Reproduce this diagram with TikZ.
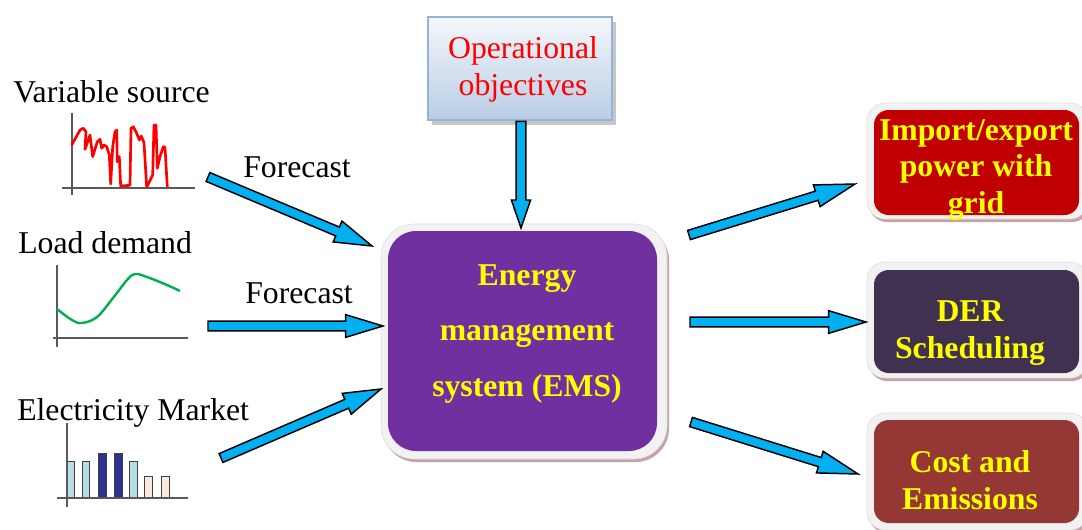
\documentclass[tikz,border=0pt]{standalone}
\usepackage{fontspec}
\setmainfont{Liberation Serif}
\usetikzlibrary{calc,shadows}
\definecolor{arrowc}{HTML}{00B0F0}
\definecolor{axisc}{HTML}{595959}
\definecolor{loadc}{HTML}{00B050}
\definecolor{barlight}{HTML}{B7DEE8}
\definecolor{bardark}{HTML}{2E3192}
\definecolor{barpeach}{HTML}{FDE9D9}
\definecolor{barline}{HTML}{404040}
\definecolor{framec}{HTML}{F2F2F2}
\definecolor{framed}{HTML}{DDDDDD}
\definecolor{shadowc}{HTML}{C4A4A4}
\definecolor{emsc}{HTML}{7030A0}
\definecolor{importc}{HTML}{C00000}
\definecolor{derc}{HTML}{403151}
\definecolor{costc}{HTML}{953735}
\definecolor{yellowc}{HTML}{FFFF00}
\definecolor{objtop}{HTML}{F4F7FB}
\definecolor{objbot}{HTML}{B9CDE5}
\definecolor{objborder}{HTML}{95B3D7}
\newcommand\blockarrow[5]{%
  \coordinate (bac) at ($(#2)!#5!(#1)$);
  \draw[blockarr] ($(#1)!#3!90:(#2)$) -- ($(bac)!#3!90:(#2)$) -- ($(bac)!#4!90:(#2)$)
    -- (#2) -- ($(bac)!#4!-90:(#2)$) -- ($(bac)!#3!-90:(#2)$) -- ($(#1)!#3!-90:(#2)$) -- cycle;
}
\begin{document}
\begin{tikzpicture}[x=0.75pt,y=-0.75pt,
  lbl/.style={font=\fontsize{23.8}{28}\selectfont, inner sep=0pt, anchor=base west},
  blockarr/.style={fill=arrowc, draw=black, line width=1.1pt, line join=miter},
  axisline/.style={draw=axisc, line width=0.8pt},
  bar/.style={draw=barline, line width=0.6pt},
  outerframe/.style={rectangle, fill=framec, draw=framed, line width=0.4pt, inner sep=0pt,
    general shadow={fill=shadowc, shadow xshift=1.5pt, shadow yshift=-2.25pt}},
  innerbox/.style={rectangle, inner sep=0pt, draw=none},
  boxtext/.style={font=\bfseries\fontsize{23.8}{27.75}\selectfont, text=yellowc, align=center, inner sep=0pt},
  objbox/.style={rectangle, inner sep=0pt, top color=objtop, bottom color=objbot, draw=objborder, line width=2pt,
    general shadow={fill=gray!45, shadow xshift=3pt, shadow yshift=-3.75pt}}
]
\useasboundingbox (0,0) rectangle (1082,529);
\clip (0,0) rectangle (1082,529);

% ---------- left labels ----------
\node[lbl] (vs) at (13,102) {Variable source};
\node[lbl] (ld) at (18,253) {Load demand};
\node[lbl] (em) at (17,420) {Electricity Market};
\node[lbl] (fc1) at (243,177) {Forecast};
\node[lbl] (fc2) at (245,303) {Forecast};

% ---------- variable source chart ----------
\draw[axisline] (72,113) -- (72,195);
\draw[axisline] (62,188) -- (195,188);
\draw[red, line width=2pt, line join=round] plot coordinates {
 (71.7,145) (80,130) (83.3,128.3) (86,131.7) (85,149.3) (88.3,140) (90,135) (92.7,156.7)
 (97.3,141.7) (100,139.3) (101.7,148.3) (104,145) (106.7,146.7) (109.3,155) (110.7,184)
 (112.7,146.7) (115,131.7) (116.7,130) (117.3,161.7) (119.3,156.7) (120.7,186) (130,185.3)
 (131,128.3) (133.3,126.7) (136.7,133.3) (139.3,140) (141.3,136) (144,142.7) (146.7,187.3)
 (152.7,175) (154,125) (156,125) (157.3,168.3) (160,156.7) (163.3,146.7) (165,147.3) (167.3,187)};

% ---------- load demand chart ----------
\draw[axisline] (57,265) -- (57,347);
\draw[axisline] (53,338) -- (188,338);
\draw[loadc, line width=1.8pt] plot[smooth, tension=0.6] coordinates {
 (57,309) (72,320) (82,323) (97,317) (113,298) (127,280) (135,274) (147,277) (167,285) (180,291)};

% ---------- electricity market chart ----------
\draw[bar, fill=barlight] (67,461) rectangle (74,498);
\draw[bar, fill=barlight] (82,461) rectangle (89,498);
\draw[bar, fill=bardark] (98,453) rectangle (106,498);
\draw[bar, fill=bardark] (114,453) rectangle (122,498);
\draw[bar, fill=barlight] (129,461) rectangle (137,498);
\draw[bar, fill=barpeach] (144,476) rectangle (152,498);
\draw[bar, fill=barpeach] (161,476) rectangle (169,498);
\draw[axisline] (67,423) -- (67,507);
\draw[axisline] (57,498) -- (188,498);

% ---------- operational objectives ----------
\node[objbox, minimum width=138pt, minimum height=77.25pt] (obj) at (520,68.5) {};
\node[font=\fontsize{23.8}{27.75}\selectfont, text=red, align=center, inner sep=0pt] (objt) at (523,69.5) {Operational\\objectives};

% ---------- EMS ----------
\node[outerframe, rounded corners=25pt, minimum width=214.5pt, minimum height=176.25pt] (emsf) at (524,341.5) {};
\node[innerbox, fill=emsc, rounded corners=21pt, minimum width=201.75pt, minimum height=165pt] (ems) at (522.5,341) {};
\node[boxtext, font=\bfseries\fontsize{23.8}{41.6}\selectfont] (emst) at (527,334) {Energy\\management\\system (EMS)};

% ---------- right boxes ----------
\node[outerframe, rounded corners=13.5pt, minimum width=165.75pt, minimum height=87pt] (impf) at (977.5,161) {};
\node[innerbox, fill=importc, rounded corners=11pt, minimum width=153.75pt, minimum height=78.75pt] (imp) at (976.5,162.5) {};
\node[boxtext, font=\bfseries\fontsize{23.8}{27.5}\selectfont] (impt) at (976,170) {Import/export\\power with\\grid};

\node[outerframe, rounded corners=13.5pt, minimum width=165.75pt, minimum height=87pt] (derf) at (977.5,320) {};
\node[innerbox, fill=derc, rounded corners=11pt, minimum width=153.75pt, minimum height=77.25pt] (der) at (976.5,321.5) {};
\node[boxtext] (dert) at (970,333) {DER\\Scheduling};

\node[outerframe, rounded corners=13.5pt, minimum width=165.75pt, minimum height=87.75pt] (costf) at (977.5,471.5) {};
\node[innerbox, fill=costc, rounded corners=11pt, minimum width=153.75pt, minimum height=77.25pt] (cost) at (976.5,471.5) {};
\node[boxtext] (costt) at (970,480.5) {Cost and\\Emissions};

% ---------- arrows ----------
\coordinate (a1s) at (208,177);  \coordinate (a1e) at (372,246);
\coordinate (a2s) at (208,326);  \coordinate (a2e) at (383,326);
\coordinate (a3s) at (221,458);  \coordinate (a3e) at (381,389);
\coordinate (a4s) at (obj.south -| 521,0); \coordinate (a4e) at (521,228);
\coordinate (a5s) at (689,235);  \coordinate (a5e) at (855,184);
\coordinate (a6s) at (690,322);  \coordinate (a6e) at (866,322);
\coordinate (a7s) at (691,422);  \coordinate (a7e) at (858,474);
\blockarrow{a1s}{a1e}{3.6pt}{8.5pt}{28pt}
\blockarrow{a2s}{a2e}{3.6pt}{8.5pt}{28pt}
\blockarrow{a3s}{a3e}{3.6pt}{8.5pt}{28pt}
\blockarrow{a4s}{a4e}{3.6pt}{7.2pt}{21pt}
\blockarrow{a5s}{a5e}{3.6pt}{8.5pt}{30pt}
\blockarrow{a6s}{a6e}{3.6pt}{8.5pt}{28pt}
\blockarrow{a7s}{a7e}{3.6pt}{8.5pt}{30pt}
\end{tikzpicture}
\end{document}
